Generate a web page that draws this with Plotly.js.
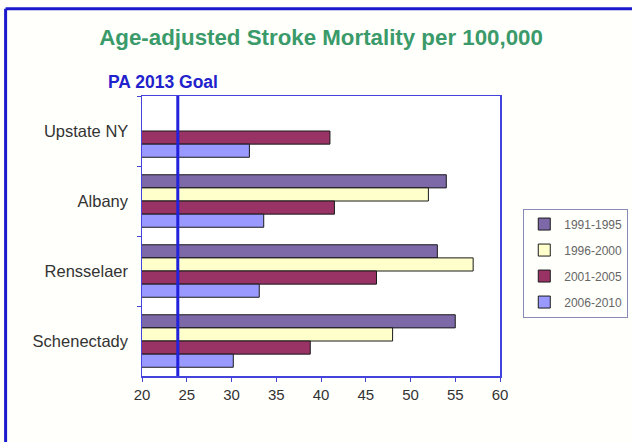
<!DOCTYPE html>
<html>
<head>
<meta charset="utf-8">
<script src="https://cdn.plot.ly/plotly-3.0.1.min.js"></script>
<style>
html,body{margin:0;padding:0;background:#ffffff;}
#chart{width:632px;height:442px;}
</style>
</head>
<body>
<div id="chart"></div>
<script>
var categories = ["Upstate NY", "Albany", "Rensselaer", "Schenectady"];
var seriesNames = ["1991-1995", "1996-2000", "2001-2005", "2006-2010"];
var v1991 = [null, 54.0, 53.0, 55.0];
var v1996 = [null, 52.0, 57.0, 48.0];
var v2001 = [41.0, 41.5, 46.2, 38.8];
var v2006 = [32.0, 33.6, 33.1, 30.2];
var goalValue = [24];
var xTicks = [20, 25, 30, 35, 40, 45, 50, 55, 60];

var colors = ["#7d68a8", "#ffffcc", "#993366", "#9999ff"];
var seriesValues = [v1991, v1996, v2001, v2006];

var traces = seriesValues.map(function(vals, i){
  return {
    type: "bar",
    orientation: "h",
    name: seriesNames[i],
    legendgroup: "g" + i,
    y: categories,
    x: vals,
    marker: {color: colors[i], line: {color: "#1a1a1a", width: 1}},
    hoverinfo: "x+name"
  };
});

var layout = {
  width: 632, height: 442,
  margin: {l: 142, r: 132, t: 96, b: 66, autoexpand: false},
  paper_bgcolor: "#fffffb",
  plot_bgcolor: "#ffffff",
  font: {family: "Liberation Sans, Arial, sans-serif", color: "#333333"},
  barmode: "group",
  bargap: 0.25,
  bargroupgap: 0,
  showlegend: true,
  title: {
    text: "Age-adjusted Stroke Mortality per 100,000",
    font: {family: "Liberation Sans, Arial, sans-serif", size: 22.3, color: "#3a9a6a", weight: "bold"},
    x: 0.508, xanchor: "center", y: 0.916, yanchor: "middle"
  },
  xaxis: {
    range: [20, 60],
    tickvals: xTicks,
    ticktext: xTicks.map(String),
    ticks: "outside", ticklen: 4, tickcolor: "#4444cc",
    showline: true, linecolor: "#4444dd", linewidth: 1.5, mirror: true,
    showgrid: false, zeroline: false,
    tickfont: {size: 15, color: "#333333"}
  },
  yaxis: {
    type: "category",
    categoryorder: "array",
    categoryarray: categories,
    autorange: "reversed",
    tickson: "boundaries",
    ticks: "outside", ticklen: 4, tickcolor: "#4444cc",
    showline: true, linecolor: "#4444dd", linewidth: 1.5, mirror: true,
    showgrid: false, zeroline: false,
    ticksuffix: "  ",
    tickfont: {size: 16.5, color: "#333333"}
  },
  legend: {
    x: 1.065, xanchor: "left",
    y: 0.598, yanchor: "top",
    traceorder: "grouped",
    tracegroupgap: 7,
    bordercolor: "#8a8ab8", borderwidth: 1,
    bgcolor: "rgba(255,255,255,0)",
    font: {size: 12, color: "#666666"},
    itemwidth: 30
  },
  shapes: [
    {type: "line", xref: "x", yref: "paper", x0: goalValue[0], x1: goalValue[0], y0: 0, y1: 1,
     line: {color: "#2222dd", width: 3}},
    {type: "line", xref: "paper", yref: "paper", x0: -0.381, x1: 1.4, y0: 1.312, y1: 1.312,
     line: {color: "#1a1acc", width: 3}},
    {type: "line", xref: "paper", yref: "paper", x0: -0.381, x1: -0.381, y0: -0.3, y1: 1.312,
     line: {color: "#1a1acc", width: 3}}
  ],
  annotations: [
    {text: "PA 2013 Goal", xref: "paper", yref: "paper", x: 0.06, y: 1.05,
     xanchor: "center", yanchor: "middle", showarrow: false,
     font: {family: "Liberation Sans, Arial, sans-serif", size: 17.5, color: "#2222cc", weight: "bold"}}
  ]
};

Plotly.newPlot("chart", traces, layout, {displayModeBar: false, staticPlot: true});
</script>
</body>
</html>
